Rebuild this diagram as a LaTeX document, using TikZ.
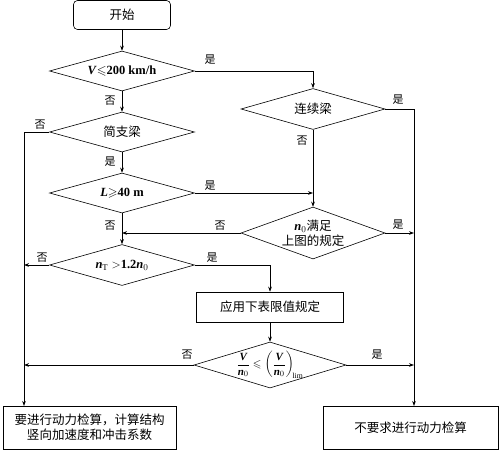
\documentclass[tikz,border=0pt]{standalone}
\usepackage{amsmath,amssymb}
\usepackage{fontspec}
\setmainfont{Liberation Serif}
\newfontfamily\cjk{Noto Sans CJK SC}
\usetikzlibrary{shapes.geometric,arrows.meta}
\begin{document}
\begin{tikzpicture}[x=1pt,y=-1pt,
  base/.style={draw, line width=0.6pt, inner sep=0pt, font=\cjk\fontsize{12.5}{15}\selectfont, align=center},
  dia/.style={base, shape=diamond},
  dtext/.style={font=\cjk\fontsize{12.5}{15}\selectfont, align=center, inner sep=0pt},
  flow/.style={line width=0.6pt, -{Stealth[length=5pt,width=3.6pt]}},
  plain/.style={line width=0.6pt},
  lab/.style={font=\cjk\fontsize{11}{13}\selectfont, inner sep=1pt}]
\useasboundingbox (0,0) rectangle (500,450);
% nodes
\node[base, rounded corners=4pt, minimum width=97pt, minimum height=29pt] (start) at (122,15) {开始};
\node[dia, minimum width=145pt, minimum height=40pt, label={[dtext]center:{\rmfamily\bfseries\textit{V}$\leqslant$200 km/h}}] (d1) at (122,71) {};
\node[dia, minimum width=145pt, minimum height=40pt, label={[dtext]center:{简支梁}}] (d2) at (122,132) {};
\node[dia, minimum width=145pt, minimum height=40pt, label={[dtext]center:{\rmfamily\bfseries\textit{L}$\geqslant$40 m}}] (d3) at (122,193) {};
\node[dia, minimum width=145pt, minimum height=41pt, label={[dtext]center:{\rmfamily\bfseries\textit{n}$_{\mathrm{T}}>$1.2\textit{n}$_0$}}] (d4) at (122,265) {};
\node[dia, minimum width=144pt, minimum height=41pt, label={[dtext]center:{连续梁}}] (lx) at (313,109) {};
\node[dia, minimum width=144pt, minimum height=52pt, label={[dtext]center:{{\rmfamily\bfseries\textit{n}$_0$}满足\\上图的规定}}] (n0) at (313,233) {};
\node[base, minimum width=147pt, minimum height=30pt] (apply) at (270,307) {应用下表限值规定};
\node[dia, minimum width=152pt, minimum height=46pt, label={[dtext, font=\fontsize{11}{13}\selectfont]center:{\rmfamily\bfseries $\dfrac{\textit{V}}{\textit{n}_0}\leqslant\left(\dfrac{\textit{V}}{\textit{n}_0}\right)_{\!\mathrm{lim}}$}}] (d5) at (270,365) {};
\node[base, minimum width=173pt, minimum height=43pt] (bl) at (89.5,427.5) {要进行动力检算，计算结构\\竖向加速度和冲击系数};
\node[base, minimum width=175pt, minimum height=43pt] (br) at (410.5,427.5) {不要求进行动力检算};
% helper coordinates
\coordinate (lt) at (24,132);
\coordinate (lb) at (24,406);
\coordinate (rt) at (414,109);
\coordinate (rb) at (414,406);
\coordinate (r1) at (313,71);
\coordinate (j1) at (313,193);
\coordinate (j2) at (122,233);
\coordinate (k4) at (24,265);
\coordinate (r4) at (270,265);
\coordinate (k5) at (24,365);
\coordinate (m5) at (414,365);
\coordinate (m0) at (414,233);
% connectors
\draw[flow] (start) -- (d1);
\draw[flow] (d1) -- (d2);
\draw[flow] (d1.east) -- (r1) -- (lx.north);
\draw[plain] (d2.west) -- (lt);
\draw[flow] (lt) -- (lb);
\draw[flow] (d2) -- (d3);
\draw[flow] (d3.east) -- (j1);
\draw[flow] (lx.south) -- (n0.north);
\draw[flow] (n0.west) -- (j2);
\draw[flow] (d3) -- (d4);
\draw[flow] (n0.east) -- (m0);
\draw[plain] (lx.east) -- (rt);
\draw[flow] (rt) -- (rb);
\draw[flow] (d4.west) -- (k4);
\draw[flow] (d4.east) -- (r4) -- (apply.north);
\draw[flow] (apply) -- (d5);
\draw[flow] (d5.west) -- (k5);
\draw[flow] (d5.east) -- (m5);
% labels
\node[lab] (l1) at (210,60) {是};
\node[lab] (l2) at (110,101) {否};
\node[lab] (l3) at (40,125) {否};
\node[lab] (l4) at (110,162) {是};
\node[lab] (l5) at (210,186) {是};
\node[lab] (l6) at (110,226) {否};
\node[lab] (l7) at (220,226) {否};
\node[lab] (l8) at (398,225) {是};
\node[lab] (l9) at (398,100) {是};
\node[lab] (l10) at (302,141) {否};
\node[lab] (l11) at (42,258) {否};
\node[lab] (l12) at (212,258) {是};
\node[lab] (l13) at (187,355) {否};
\node[lab] (l14) at (377,355) {是};
\end{tikzpicture}
\end{document}
